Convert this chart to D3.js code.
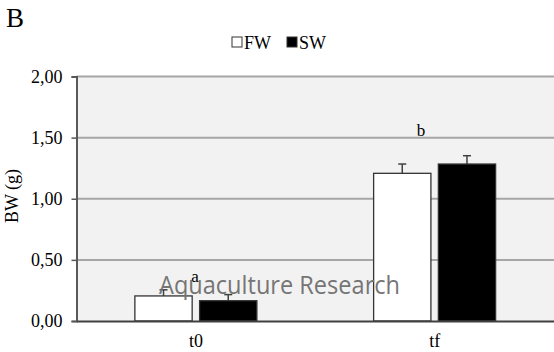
<!DOCTYPE html>
<html>
<head>
<script src="https://d3js.org/d3.v7.min.js"></script>
<style>
  body { margin: 0; background: #fff; }
  .serif { font-family: 'Liberation Serif', 'Times New Roman', serif; fill: #000; }
</style>
</head>
<body>
<svg id="chart" width="554" height="352"></svg>
<script>
var categories = ["t0", "tf"];
var series = ["FW", "SW"];
var fwValues = [0.205, 1.208];
var swValues = [0.166, 1.284];
var fwErrors = [0.05, 0.076];
var swErrors = [0.05, 0.068];
var letters = ["a", "b"];
var yTicks = [0, 0.5, 1, 1.5, 2];

var svg = d3.select("#chart");
var margin = {top: 76.5, right: 0, bottom: 31, left: 76.5};
var width = 554 - margin.left - margin.right;
var height = 352 - margin.top - margin.bottom;

var x = d3.scaleBand().domain(categories).range([0, width]);
var xs = d3.scaleBand().domain(series).range([0, 122]).paddingInner(0.1148);
var y = d3.scaleLinear().domain([0, 2]).range([height, 0]);
var fmt = function(d) { return d3.format(".2f")(d).replace(".", ","); };

var g = svg.append("g").attr("transform", "translate(" + margin.left + "," + margin.top + ")");

g.append("rect").attr("width", width).attr("height", height).attr("fill", "#f2f2f2");

g.selectAll(".grid").data(yTicks.slice(1)).enter().append("line")
  .attr("x1", 0).attr("x2", width)
  .attr("y1", function(d) { return y(d); }).attr("y2", function(d) { return y(d); })
  .attr("stroke", "#a6a6a6").attr("stroke-width", 2);

var rows = categories.map(function(c, i) {
  return [{c: c, s: "FW", v: fwValues[i], e: fwErrors[i]}, {c: c, s: "SW", v: swValues[i], e: swErrors[i]}];
});
var flat = [].concat.apply([], rows);
var groupOff = (x.bandwidth() - 122) / 2;
var cx = function(d) { return x(d.c) + groupOff + xs(d.s) + xs.bandwidth() / 2; };

// error bars
var eb = g.selectAll(".err").data(flat).enter().append("g");
eb.append("line")
  .attr("x1", cx).attr("x2", cx)
  .attr("y1", function(d) { return y(d.v); }).attr("y2", function(d) { return y(d.v + d.e); })
  .attr("stroke", "#404040").attr("stroke-width", 1.5);
eb.append("line")
  .attr("x1", function(d) { return cx(d) - 4; })
  .attr("x2", function(d) { return cx(d) + 4; })
  .attr("y1", function(d) { return y(d.v + d.e); }).attr("y2", function(d) { return y(d.v + d.e); })
  .attr("stroke", "#404040").attr("stroke-width", 1.5);

g.selectAll(".bar").data(flat).enter().append("rect")
  .attr("x", function(d) { return x(d.c) + groupOff + xs(d.s); })
  .attr("y", function(d) { return y(d.v); })
  .attr("width", xs.bandwidth())
  .attr("height", function(d) { return height - y(d.v); })
  .attr("fill", function(d) { return d.s === "FW" ? "#fff" : "#000"; })
  .attr("stroke", "#333").attr("stroke-width", 1.3);

// significance letters
g.selectAll(".letter").data(categories).enter().append("text")
  .attr("class", "serif")
  .attr("x", function(d, i) { return i === 0 ? x(d) + groupOff + xs.bandwidth() - 1 : x(d) + groupOff + 43; })
  .attr("y", function(d, i) { return i === 0 ? y(fwValues[i] + fwErrors[i]) - 8 : y(1.5) - 2; })
  .style("font-size", "17px")
  .text(function(d, i) { return letters[i]; });

// axes
var yAxis = g.append("g").call(d3.axisLeft(y).tickValues(yTicks).tickSize(5).tickPadding(9).tickFormat(fmt));
yAxis.select(".domain").attr("stroke", "#595959").attr("stroke-width", 2);
yAxis.selectAll(".tick line").attr("stroke", "#595959").attr("stroke-width", 1.5);
yAxis.selectAll(".tick text").attr("class", "serif").style("font-size", "18px");

var xAxis = g.append("g").attr("transform", "translate(0," + height + ")")
  .call(d3.axisBottom(x).tickSize(0).tickPadding(13));
xAxis.select(".domain").attr("stroke", "#404040").attr("stroke-width", 2);
xAxis.selectAll(".tick text").attr("class", "serif").style("font-size", "18px");

svg.append("text").attr("class", "serif").attr("transform", "translate(18,196) rotate(-90)")
  .attr("text-anchor", "middle").style("font-size", "18px").text("BW (g)");

svg.append("text").attr("class", "serif").attr("x", 6).attr("y", 27).style("font-size", "27px").text("B");

// legend
var leg = svg.append("g").attr("transform", "translate(232,37)");
var li = leg.selectAll("g").data(series).enter().append("g")
  .attr("transform", function(d, i) { return "translate(" + (i * 55) + ",0)"; });
li.append("rect").attr("width", 10).attr("height", 10)
  .attr("fill", function(d) { return d === "FW" ? "#fff" : "#000"; })
  .attr("stroke", "#333").attr("stroke-width", 1);
li.append("text").attr("class", "serif").attr("x", 12).attr("y", 12)
  .style("font-size", "18px").text(function(d) { return d; });

// watermark
svg.append("text").attr("x", 159).attr("y", 294)
  .style("font-family", "'Open Sans', sans-serif").style("fill", "#757575")
  .style("font-size", "25px").attr("textLength", 241).attr("lengthAdjust", "spacingAndGlyphs")
  .text("Aquaculture Research");
</script>
</body>
</html>
